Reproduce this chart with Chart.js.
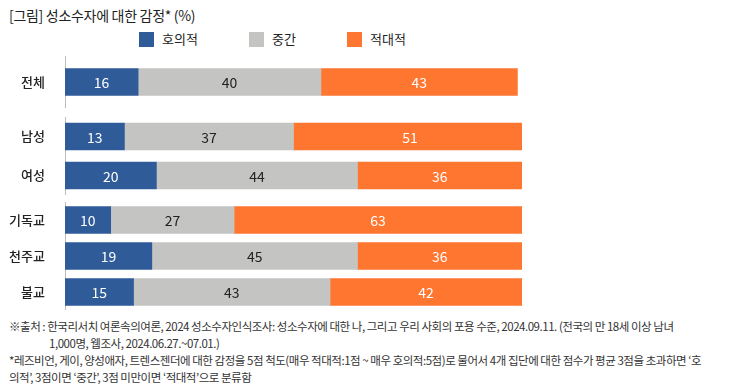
<!DOCTYPE html>
<html>
<head>
<meta charset="utf-8">
<script src="https://cdn.jsdelivr.net/npm/chart.js@4.4.1/dist/chart.umd.min.js"></script>
<style>
  body { margin: 0; background: #fff; font-family: "Noto Sans CJK KR", "Noto Sans", sans-serif; }
  #page { position: relative; width: 730px; height: 390px; overflow: hidden; }
  .title { position: absolute; left: 9px; top: 5px; font-size: 14px; color: #222; letter-spacing: -0.3px; }
  .legend { position: absolute; top: 31px; left: 0; height: 18px; }
  .legend span.box { position: absolute; top: 1px; width: 15px; height: 15px; }
  .legend span.txt { position: absolute; top: -2px; font-size: 13px; color: #222; white-space: nowrap; }
  canvas { position: absolute; left: 0; display: block; }
  .note { position: absolute; left: 9px; font-size: 11.5px; color: #333; letter-spacing: -0.47px; line-height: 17px; white-space: nowrap; }
</style>
</head>
<body>
<div id="page">
  <div class="title">[그림] 성소수자에 대한 감정* (%)</div>
  <div class="legend" id="legend"></div>
  <canvas id="c0" width="730" height="52" style="top:56px"></canvas>
  <canvas id="c1" width="730" height="78" style="top:117px"></canvas>
  <canvas id="c2" width="730" height="108" style="top:202px"></canvas>
  <div class="note" style="top:318px">※출처 : 한국리서치 여론속의여론, 2024 성소수자인식조사: 성소수자에 대한 나, 그리고 우리 사회의 포용 수준, 2024.09.11. (전국의 만 18세 이상 남녀<br><span style="padding-left:40px">1,000명, 웹조사, 2024.06.27.~07.01.)</span></div>
  <div class="note" style="top:352px">*레즈비언, 게이, 양성애자, 트렌스젠더에 대한 감정을 5점 척도(매우 적대적:1점 ~ 매우 호의적:5점)로 물어서 4개 집단에 대한 점수가 평균 3점을 초과하면 ‘호<br>의적’, 3점이면 ‘중간’, 3점 미만이면 ‘적대적’으로 분류함</div>
</div>
<script>
const categories = ['전체', '남성', '여성', '기독교', '천주교', '불교'];
const groups = [[0, 1], [1, 3], [3, 6]];
const seriesNames = ['호의적', '중간', '적대적'];
const favorable = [16, 13, 20, 10, 19, 15];
const neutral = [40, 37, 44, 27, 45, 43];
const hostile = [43, 51, 36, 63, 36, 42];

const colors = ['#2f5b99', '#c4c4c2', '#ff7630'];
const labelColors = ['#ffffff', '#222222', '#ffffff'];
const legendX = [139, 249, 347];

// legend
const legend = document.getElementById('legend');
seriesNames.forEach((name, i) => {
  legend.innerHTML += `<span class="box" style="left:${legendX[i]}px;background:${colors[i]}"></span>` +
    `<span class="txt" style="left:${legendX[i] + 23}px">${name}</span>`;
});

// value labels inside segments
const valueLabels = {
  id: 'valueLabels',
  afterDatasetsDraw(chart) {
    const ctx = chart.ctx;
    ctx.save();
    ctx.font = '14px "Noto Sans CJK KR", sans-serif';
    ctx.textAlign = 'center';
    ctx.textBaseline = 'middle';
    chart.data.datasets.forEach((ds, i) => {
      chart.getDatasetMeta(i).data.forEach((bar, j) => {
        const p = bar.getProps(['x', 'y', 'base'], true);
        ctx.fillStyle = labelColors[i];
        ctx.fillText(ds.data[j], (p.x + p.base) / 2, p.y + 1);
      });
    });
    ctx.restore();
  }
};

const allSeries = [favorable, neutral, hostile];

groups.forEach((g, k) => {
  new Chart(document.getElementById('c' + k), {
    type: 'bar',
    data: {
      labels: categories.slice(g[0], g[1]),
      datasets: allSeries.map((vals, i) => ({
        label: seriesNames[i],
        data: vals.slice(g[0], g[1]),
        backgroundColor: colors[i],
        barThickness: 27
      }))
    },
    options: {
      indexAxis: 'y',
      responsive: false,
      animation: false,
      layout: { padding: { right: 208, top: 0, bottom: 0, left: 0 } },
      plugins: { legend: { display: false }, tooltip: { enabled: false } },
      scales: {
        x: { stacked: true, min: 0, max: 100, display: false },
        y: {
          stacked: true,
          grid: { display: false, drawTicks: false },
          border: { display: true, color: '#bdbdbd', width: 1 },
          ticks: {
            color: '#222',
            padding: 20,
            font: { family: '"Noto Sans CJK KR"', size: 13, weight: 500 }
          },
          afterFit(scale) {
            // fixed axis width, no extra padding above/below the bars
            scale.width = 65;
            scale.paddingTop = 0;
            scale.paddingBottom = 0;
          }
        }
      }
    },
    plugins: [valueLabels]
  });
});
</script>
</body>
</html>
